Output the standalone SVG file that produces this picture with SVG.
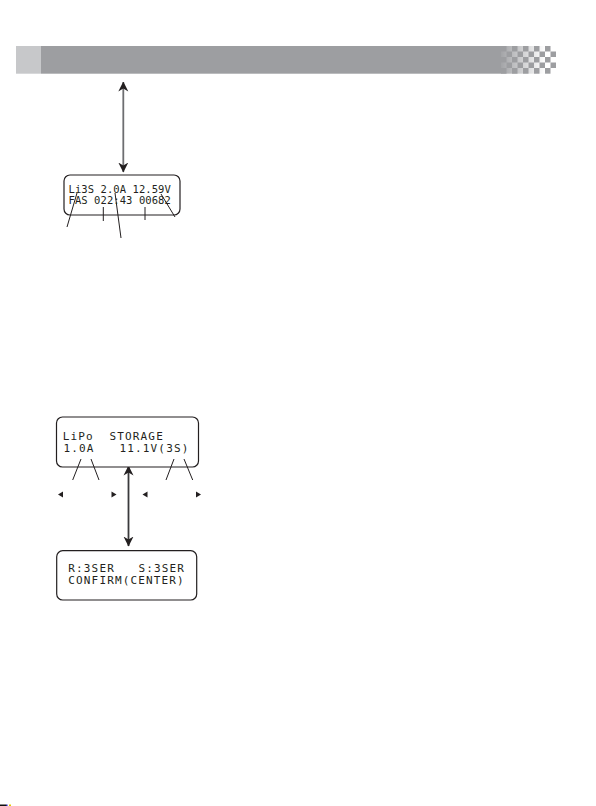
<svg xmlns="http://www.w3.org/2000/svg" width="596" height="806" viewBox="0 0 596 806">
<style>
.box{fill:#fff;stroke:#231f20;stroke-width:1.2}
.lcd{font-family:"DejaVu Sans Mono","Liberation Mono",monospace;fill:#231f20}
.s1{font-size:10.5px;letter-spacing:0.08px}
.s2{font-size:11px;letter-spacing:1.15px}
.lead{stroke:#231f20;stroke-width:1;fill:none}
.tri{fill:#231f20}
.dk{fill:#9d9ea1}
</style>
<defs>
<marker id="ah" viewBox="0 0 10 12" refX="9.5" refY="6" markerWidth="10" markerHeight="12" markerUnits="userSpaceOnUse" orient="auto-start-reverse">
<path d="M0,1 L10,6 L0,11 L3,6 Z" fill="#231f20"/>
</marker>
<linearGradient id="fade" x1="0" y1="0" x2="1" y2="0">
<stop offset="0" stop-color="#a3a4a7"/>
<stop offset="1" stop-color="#ffffff"/>
</linearGradient>
</defs>

<g id="header">
<rect x="16" y="46" width="25" height="27.7" fill="#c7c8ca"/>
<rect x="41" y="46" width="460" height="27.7" class="dk"/>
<rect x="501" y="46" width="44" height="27.7" fill="url(#fade)"/>
<rect class="dk" x="501" y="46" width="5.5" height="5.5"/>
<rect class="dk" x="512" y="46" width="5.5" height="5.5"/>
<rect class="dk" x="523" y="46" width="5.5" height="5.5"/>
<rect class="dk" x="534" y="46" width="5.5" height="5.5"/>
<rect class="dk" x="545" y="46" width="5.5" height="5.5"/>
<rect class="dk" x="506.5" y="51.5" width="5.5" height="5.5"/>
<rect class="dk" x="517.5" y="51.5" width="5.5" height="5.5"/>
<rect class="dk" x="528.5" y="51.5" width="5.5" height="5.5"/>
<rect class="dk" x="539.5" y="51.5" width="5.5" height="5.5"/>
<rect class="dk" x="550.5" y="51.5" width="5.5" height="5.5"/>
<rect class="dk" x="501" y="57" width="5.5" height="5.5"/>
<rect class="dk" x="512" y="57" width="5.5" height="5.5"/>
<rect class="dk" x="523" y="57" width="5.5" height="5.5"/>
<rect class="dk" x="534" y="57" width="5.5" height="5.5"/>
<rect class="dk" x="545" y="57" width="5.5" height="5.5"/>
<rect class="dk" x="506.5" y="62.5" width="5.5" height="5.5"/>
<rect class="dk" x="517.5" y="62.5" width="5.5" height="5.5"/>
<rect class="dk" x="528.5" y="62.5" width="5.5" height="5.5"/>
<rect class="dk" x="539.5" y="62.5" width="5.5" height="5.5"/>
<rect class="dk" x="550.5" y="62.5" width="5.5" height="5.5"/>
<rect class="dk" x="501" y="68" width="5.5" height="5.7"/>
<rect class="dk" x="512" y="68" width="5.5" height="5.7"/>
<rect class="dk" x="523" y="68" width="5.5" height="5.7"/>
<rect class="dk" x="534" y="68" width="5.5" height="5.7"/>
<rect class="dk" x="545" y="68" width="5.5" height="5.7"/>
</g>

<g id="connectors">
<line x1="123.3" y1="82" x2="123.3" y2="172" stroke="#6d6e71" stroke-width="1.8" marker-start="url(#ah)" marker-end="url(#ah)"/>
<line x1="128.5" y1="466" x2="128.5" y2="546" stroke="#3a3a3c" stroke-width="1.8" marker-start="url(#ah)" marker-end="url(#ah)"/>
</g>

<g id="display1">
<rect class="box" x="64" y="175" width="116" height="40" rx="6"/>
<text class="lcd s1" x="68.5" y="192.5">Li3S 2.0A 12.59V</text>
<text class="lcd s1" x="68.5" y="203.5">FAS 022:43 00682</text>
<line class="lead" x1="77" y1="193" x2="67" y2="227"/>
<line class="lead" x1="103.3" y1="207" x2="103.3" y2="221"/>
<line class="lead" x1="115" y1="193" x2="121" y2="238"/>
<line class="lead" x1="145" y1="207" x2="145" y2="220"/>
<line class="lead" x1="161" y1="194" x2="175" y2="217"/>
</g>

<g id="display2">
<rect class="box" x="56.5" y="417" width="142" height="50" rx="6"/>
<text class="lcd s2" x="62.7" y="440">LiPo <tspan x="109.5">STORAGE</tspan></text>
<text class="lcd s2" x="63.5" y="452">1.0A <tspan x="119.5">11.1V(3S)</tspan></text>
<line class="lead" x1="81" y1="459" x2="72.7" y2="480"/>
<line class="lead" x1="91" y1="459" x2="99" y2="480"/>
<line class="lead" x1="174" y1="459" x2="166" y2="480"/>
<line class="lead" x1="184" y1="459" x2="192.7" y2="480"/>
<polygon class="tri" points="58,494.5 63,491.5 63,497.5"/>
<polygon class="tri" points="111.5,491.5 116.5,494.5 111.5,497.5"/>
<polygon class="tri" points="142.5,494.5 147.5,491.5 147.5,497.5"/>
<polygon class="tri" points="196,491.5 201,494.5 196,497.5"/>
</g>

<g id="display3">
<rect class="box" x="56.7" y="550.7" width="140" height="49.3" rx="6"/>
<text class="lcd s2" x="68.3" y="571.5">R:3SER <tspan x="138.5">S:3SER</tspan></text>
<text class="lcd s2" x="68.3" y="583.5">CONFIRM(CENTER)</text>
</g>

<g id="marks">
<rect x="0" y="804.5" width="6" height="1.5" fill="#111"/>
<rect x="6" y="804.5" width="1.5" height="1.5" fill="#1a1aa0"/>
<rect x="9" y="804.5" width="2" height="1.5" fill="#e8c800"/>
</g>
</svg>
